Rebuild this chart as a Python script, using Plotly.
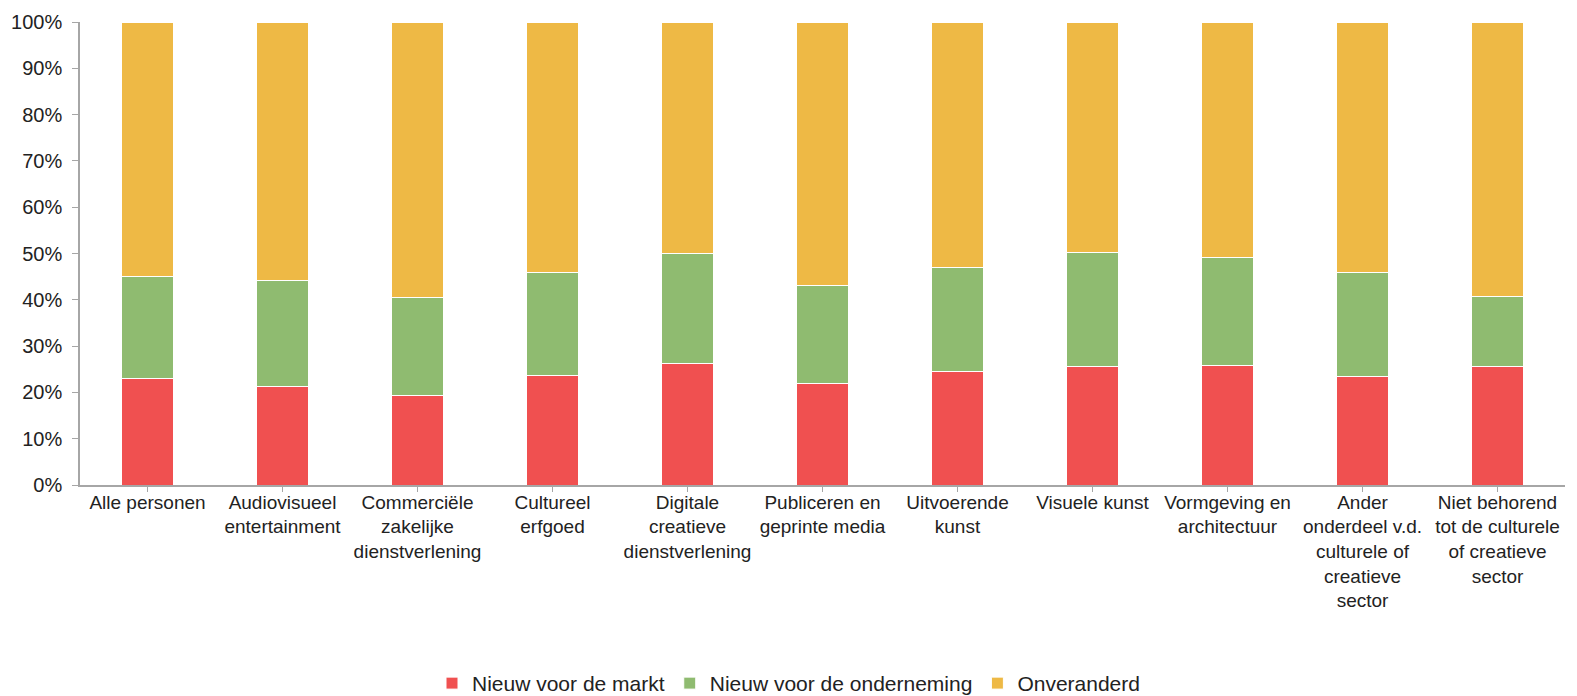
import plotly.graph_objects as go

categories = [
    "Alle personen",
    "Audiovisueel<br>entertainment",
    "Commerciële<br>zakelijke<br>dienstverlening",
    "Cultureel<br>erfgoed",
    "Digitale<br>creatieve<br>dienstverlening",
    "Publiceren en<br>geprinte media",
    "Uitvoerende<br>kunst",
    "Visuele kunst",
    "Vormgeving en<br>architectuur",
    "Ander<br>onderdeel v.d.<br>culturele of<br>creatieve<br>sector",
    "Niet behorend<br>tot de culturele<br>of creatieve<br>sector",
]

nieuw_markt = [23.0, 21.3, 19.4, 23.7, 26.3, 21.9, 24.6, 25.5, 25.8, 23.5, 25.5]
nieuw_onderneming = [22.1, 22.9, 21.0, 22.2, 23.7, 21.2, 22.4, 24.8, 23.4, 22.4, 15.2]
onveranderd = [round(100 - a - b, 1) for a, b in zip(nieuw_markt, nieuw_onderneming)]

series = [
    ("Nieuw voor de markt", nieuw_markt, "#F05050"),
    ("Nieuw voor de onderneming", nieuw_onderneming, "#8FBB70"),
    ("Onveranderd", onveranderd, "#EEB945"),
]

fig = go.Figure()
for name, vals, color in series:
    fig.add_trace(go.Bar(
        x=list(range(len(categories))),
        y=[v / 100 for v in vals],
        name=name,
        marker=dict(color=color, line=dict(color="white", width=1)),
    ))

font = "Liberation Sans, Arial, sans-serif"
fig.update_layout(
    barmode="stack",
    bargap=0.61,
    width=1577,
    height=696,
    margin=dict(l=80, r=12, t=22, b=211, autoexpand=False),
    plot_bgcolor="white",
    paper_bgcolor="white",
    font=dict(family=font, size=19, color="#222222"),
    legend=dict(
        orientation="h",
        traceorder="normal",
        x=0.5, xanchor="center", xref="container",
        y=0.018, yanchor="middle", yref="container",
        font=dict(size=21),
        itemwidth=30,
    ),
    showlegend=True,
)
fig.update_xaxes(
    tickmode="array",
    tickvals=list(range(len(categories))),
    ticktext=categories,
    range=[-0.5, len(categories) - 0.5],
    showline=True, linecolor="#A6A6A6", linewidth=1.5,
    ticks="outside", tickcolor="#A6A6A6", ticklen=5,
    tickson="boundaries",
    ticklabelstandoff=-6,
    showgrid=False,
    tickangle=0,
    automargin=False,
    tickfont=dict(size=19),
)
fig.update_yaxes(
    range=[0, 1],
    tickvals=[i / 10 for i in range(11)],
    tickformat=".0%",
    showline=True, linecolor="#A6A6A6", linewidth=1.5,
    ticks="outside", tickcolor="#A6A6A6", ticklen=6,
    ticklabelstandoff=6,
    showgrid=False,
    zeroline=False,
    automargin=False,
    tickfont=dict(size=20),
)

fig.write_html("out.html")
